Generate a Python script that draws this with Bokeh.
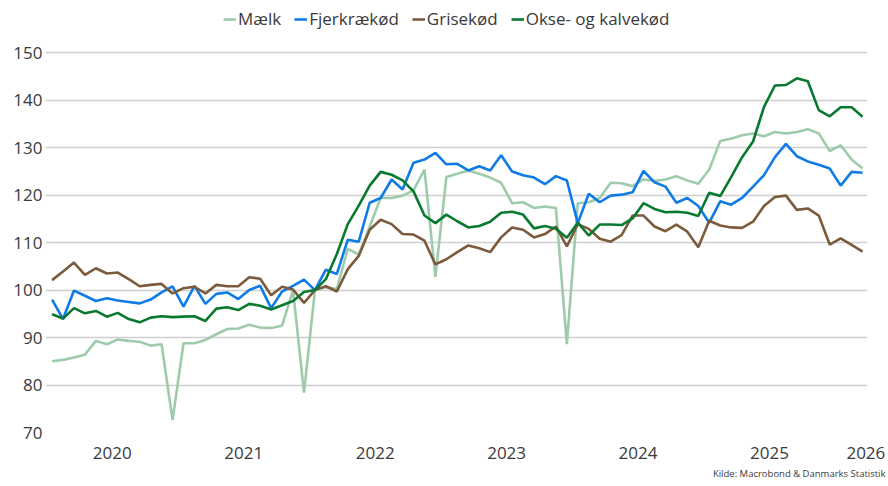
from bokeh.plotting import figure
from bokeh.models import Range1d, FixedTicker, Legend, LegendItem, Title
from bokeh.embed import file_html
from bokeh.resources import INLINE

# month index 0 = Jan 2020 ... 74
months = list(range(75))

maelk = [85.0, 85.3, 85.8, 86.4, 89.3, 88.6, 89.6, 89.3, 89.1, 88.3, 88.6, 72.6, 88.8, 88.8, 89.5,
         90.7, 91.8, 91.9, 92.7, 92.1, 92.0, 92.5, 100.0, 78.4, 100.0, 100.6, 100.2, 108.7, 107.5,
         113.4, 119.4, 119.4, 119.9, 121.0, 125.4, 102.8, 123.8, 124.5, 125.2, 124.5, 123.7, 122.6,
         118.3, 118.5, 117.3, 117.6, 117.3, 88.6, 118.3, 118.5, 119.4, 122.6, 122.5, 121.9, 123.3,
         123.0, 123.3, 124.0, 123.1, 122.4, 125.4, 131.4, 131.9, 132.6, 133.0, 132.4, 133.3, 133.0,
         133.3, 133.9, 133.0, 129.3, 130.5, 127.5, 125.6]

fjerkrae = [98.0, 93.9, 99.9, 98.8, 97.7, 98.3, 97.8, 97.5, 97.2, 98.0, 99.5, 100.8, 96.5, 100.9,
            97.1, 99.2, 99.5, 98.1, 100.0, 100.9, 96.2, 99.7, 100.9, 102.2, 100.0, 104.3, 103.4,
            110.6, 110.2, 118.4, 119.4, 123.3, 121.2, 126.8, 127.5, 128.9, 126.5, 126.6, 125.2,
            126.1, 125.2, 128.4, 125.0, 124.2, 123.7, 122.3, 124.0, 123.1, 114.1, 120.3, 118.5,
            119.9, 120.1, 120.6, 125.1, 122.7, 121.8, 118.4, 119.4, 117.7, 114.2, 118.7, 118.0,
            119.4, 121.8, 124.2, 128.0, 130.8, 128.2, 127.1, 126.4, 125.6, 122.0, 124.9, 124.7]

grise = [102.1, 103.9, 105.8, 103.2, 104.6, 103.5, 103.7, 102.3, 100.8, 101.1, 101.3, 99.3, 100.4,
         100.7, 99.3, 101.1, 100.8, 100.8, 102.7, 102.4, 98.9, 100.7, 100.1, 97.3, 100.0, 100.8,
         99.7, 104.4, 107.2, 112.7, 114.8, 113.9, 111.8, 111.7, 110.4, 105.4, 106.5, 108.0, 109.4,
         108.8, 108.0, 111.1, 113.2, 112.7, 111.1, 111.8, 113.4, 109.2, 113.9, 112.9, 110.8, 110.2,
         111.6, 115.7, 115.7, 113.4, 112.4, 113.8, 112.3, 109.0, 114.6, 113.6, 113.2, 113.1, 114.4,
         117.7, 119.6, 119.9, 116.9, 117.2, 115.7, 109.6, 110.9, 109.5, 108.1]

okse = [94.9, 94.0, 96.2, 95.1, 95.6, 94.4, 95.2, 93.9, 93.2, 94.2, 94.5, 94.3, 94.4, 94.5, 93.5,
        96.1, 96.4, 95.8, 97.1, 96.7, 95.9, 96.8, 97.7, 99.6, 100.0, 102.3, 107.6, 113.9, 117.8,
        122.0, 124.9, 124.3, 123.1, 120.8, 115.7, 114.1, 115.9, 114.5, 113.2, 113.5, 114.4, 116.3,
        116.5, 115.9, 113.0, 113.5, 112.9, 111.0, 114.2, 111.5, 113.8, 113.8, 113.7, 115.1, 118.3,
        117.1, 116.4, 116.5, 116.3, 115.6, 120.5, 119.8, 123.8, 128.0, 131.3, 138.6, 143.1, 143.2,
        144.6, 144.0, 137.9, 136.6, 138.5, 138.5, 136.5]

series_names = ["Mælk", "Fjerkrækød", "Grisekød", "Okse- og kalvekød"]
series_colors = ["#9ecbab", "#0f7be6", "#7b5b3b", "#08792f"]

year_labels = ["2020", "2021", "2022", "2023", "2024", "2025", "2026"]
year_ticks = [5.5, 17.5, 29.5, 41.5, 53.5, 65.5, 74.3]
y_ticks = [70, 80, 90, 100, 110, 120, 130, 140, 150]

FONT = "Open Sans"
TXT = "#3a3a3a"

p = figure(width=888, height=486, output_backend="svg", toolbar_location=None,
           x_range=Range1d(-0.6, 74.45), y_range=Range1d(70, 161.0),
           min_border_left=45, min_border_right=21, min_border_top=0, min_border_bottom=54)
p.outline_line_color = None
p.background_fill_color = "white"
p.border_fill_color = "white"

renderers = []
for name, col, data in zip(series_names, series_colors,
                           [maelk, fjerkrae, grise, okse]):
    r = p.line(months, data, line_color=col, line_width=2.6)
    renderers.append((name, r))

p.xgrid.grid_line_color = None
p.ygrid.grid_line_color = "#cfcfcf"
p.ygrid.grid_line_width = 1.3

p.yaxis.ticker = FixedTicker(ticks=y_ticks)
p.yaxis.axis_line_color = None
p.yaxis.major_tick_line_color = None
p.yaxis.minor_tick_line_color = None
p.yaxis.major_tick_out = 0
p.yaxis.major_tick_in = 0
p.yaxis.major_label_standoff = 3
p.yaxis.major_label_text_font = FONT
p.yaxis.major_label_text_font_size = "17px"
p.yaxis.major_label_text_color = TXT

p.xaxis.ticker = FixedTicker(ticks=year_ticks)
p.xaxis.major_label_overrides = {t: l for t, l in zip(year_ticks, year_labels)}
p.xaxis.axis_line_color = None
p.xaxis.major_tick_line_color = None
p.xaxis.minor_tick_line_color = None
p.xaxis.major_tick_out = 0
p.xaxis.major_tick_in = 0
p.xaxis.major_label_standoff = 14
p.xaxis.major_label_text_font = FONT
p.xaxis.major_label_text_font_size = "17px"
p.xaxis.major_label_text_color = TXT

legend = Legend(items=[LegendItem(label=n, renderers=[r]) for n, r in renderers],
                orientation="horizontal", location=(178, 402))
legend.border_line_color = None
legend.background_fill_alpha = 0
legend.label_text_font = FONT
legend.label_text_font_size = "17px"
legend.label_text_color = TXT
legend.glyph_width = 13
legend.glyph_height = 20
legend.label_height = 20
legend.label_standoff = 2
legend.spacing = 13
legend.padding = 0
legend.margin = 0
p.add_layout(legend, "center")

src = Title(text="Kilde: Macrobond & Danmarks Statistik", align="right",
            text_font=FONT, text_font_size="9.5px", text_font_style="normal",
            text_color=TXT, standoff=6, offset=-18)
p.add_layout(src, "below")

open("out.html", "w").write(file_html(p, INLINE))
